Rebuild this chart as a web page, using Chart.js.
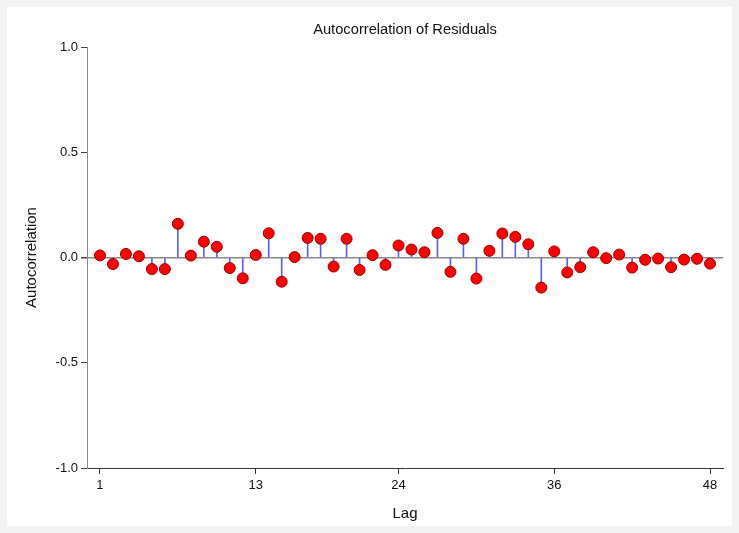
<!DOCTYPE html>
<html>
<head>
<meta charset="utf-8">
<script src="https://cdn.jsdelivr.net/npm/chart.js@4.4.1/dist/chart.umd.min.js"></script>
<style>
  html, body { margin: 0; padding: 0; background: #f3f3f3; }
  #wrap { position: absolute; left: 7px; top: 7px; width: 725px; height: 519px; background: #fff; }
</style>
</head>
<body>
<div id="wrap"><canvas id="acf" width="725" height="519"></canvas></div>
<script>
// Dados
const lags = [];
for (let i = 1; i <= 48; i++) lags.push(i);
const acfValues = [
  0.010, -0.031, 0.017, 0.006, -0.055, -0.055, 0.160, 0.009, 0.075, 0.051,
  -0.050, -0.099, 0.012, 0.115, -0.115, 0.002, 0.093, 0.089, -0.043, 0.089,
  -0.059, 0.011, -0.035, 0.057, 0.038, 0.025, 0.117, -0.068, 0.089, -0.100,
  0.032, 0.114, 0.098, 0.063, -0.143, 0.029, -0.071, -0.046, 0.025, -0.003,
  0.014, -0.048, -0.011, -0.005, -0.046, -0.010, -0.006, -0.029
];
const lagTicks = [1, 13, 24, 36, 48];
const yTicks = [-1, -0.5, 0, 0.5, 1];

const points = lags.map((l, i) => ({ x: l, y: acfValues[i] }));

// Título centrado sobre a área do gráfico
const plotTitle = {
  id: 'plotTitle',
  afterDraw(chart) {
    const ctx = chart.ctx;
    const area = chart.chartArea;
    ctx.save();
    ctx.font = '14.7px "Liberation Sans", Arial, sans-serif';
    ctx.fillStyle = '#111';
    ctx.textAlign = 'center';
    ctx.textBaseline = 'middle';
    ctx.fillText('Autocorrelation of Residuals', (area.left + area.right) / 2, 23);
    ctx.restore();
  }
};

const font = { family: '"Liberation Sans", Arial, sans-serif', size: 13 };
const titleFont = { family: font.family, size: 15 };

new Chart(document.getElementById('acf').getContext('2d'), {
  type: 'scatter',
  data: {
    datasets: [
      {
        type: 'scatter',
        data: points,
        pointRadius: 5.5,
        pointHoverRadius: 5.5,
        pointBackgroundColor: '#ff0000',
        pointBorderColor: '#9a0000',
        pointBorderWidth: 1,
        order: 0
      },
      {
        type: 'bar',
        data: points,
        backgroundColor: 'rgb(95, 95, 255)',
        barThickness: 1,
        order: 1
      }
    ]
  },
  options: {
    responsive: false,
    animation: false,
    layout: { padding: { top: 40, right: 9, bottom: 0, left: 0 } },
    plugins: { legend: { display: false }, tooltip: { enabled: false } },
    scales: {
      x: {
        type: 'linear',
        min: 0,
        max: 49,
        offset: false,
        afterBuildTicks: axis => { axis.ticks = lagTicks.map(v => ({ value: v })); },
        afterFit: axis => { axis.height = 58; },
        grid: { offset: false, drawOnChartArea: false, tickLength: 6, tickColor: '#333' },
        border: { color: '#333', width: 1 },
        ticks: { font: font, color: '#111', padding: 4, maxRotation: 0, autoSkip: false },
        title: { display: true, text: 'Lag', font: titleFont, color: '#111', padding: { top: 0, bottom: 3 } }
      },
      y: {
        min: -1,
        max: 1,
        afterBuildTicks: axis => { axis.ticks = yTicks.map(v => ({ value: v })); },
        afterFit: axis => { axis.width = 80; },
        grid: {
          color: c => (c.tick && c.tick.value === 0 ? '#8a8a8a' : 'rgba(0,0,0,0)'),
          lineWidth: c => (c.tick && c.tick.value === 0 ? 1.5 : 1),
          tickLength: 6,
          tickColor: '#444'
        },
        border: { color: '#8a8a8a', width: 1 },
        ticks: { font: font, color: '#111', padding: 3, callback: v => v.toFixed(1) },
        title: { display: true, text: 'Autocorrelation', font: titleFont, color: '#111', padding: { top: 16, bottom: 0 } }
      }
    }
  },
  plugins: [plotTitle]
});
</script>
</body>
</html>
